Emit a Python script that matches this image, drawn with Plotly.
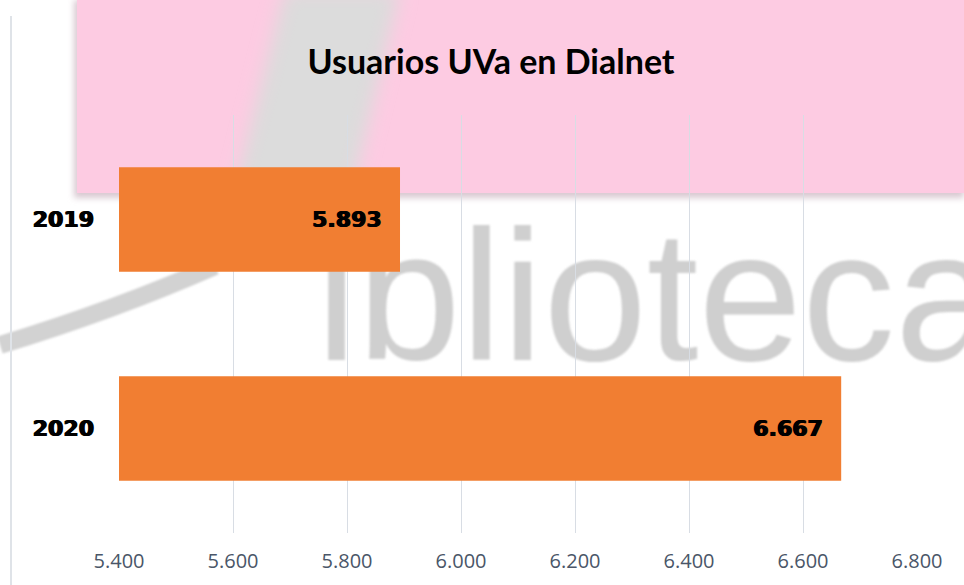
import base64
import plotly.graph_objects as go

# ---- data ----
years = ["2019", "2020"]
usuarios = [5893, 6667]
x_ticks = [5400, 5600, 5800, 6000, 6200, 6400, 6600, 6800]
title_text = "Usuarios UVa en Dialnet"
watermark = "iblioteca"

W, H = 964, 585
ML, MR, MT, MB = 119, 47, 115, 52
PW, PH = W - ML - MR, H - MT - MB

svg = f"""<svg xmlns='http://www.w3.org/2000/svg' width='{W}' height='{H}' viewBox='0 0 {W} {H}'>
<defs>
<filter id='b1' x='-50%' y='-50%' width='200%' height='200%'><feGaussianBlur stdDeviation='9'/></filter>
<filter id='b2' x='-50%' y='-50%' width='200%' height='200%'><feGaussianBlur stdDeviation='3'/></filter>
<filter id='b3' x='-20%' y='-20%' width='140%' height='140%'><feGaussianBlur stdDeviation='1.2'/></filter>
<clipPath id='pk'><rect x='77' y='0' width='887' height='193'/></clipPath>
</defs>
<rect x='0' y='0' width='{W}' height='{H}' fill='white'/>
<rect x='74' y='0' width='890' height='198' fill='#d9c9d1' filter='url(#b2)'/>
<rect x='77' y='0' width='887' height='193' fill='#fdcbe2'/>
<g clip-path='url(#pk)'>
<polygon points='285,-10 400,-10 350,200 232,200' fill='#dcdcdc' filter='url(#b1)'/>
</g>
<path d='M 215,266 Q 115,310 0,345' stroke='#d2d2d2' stroke-width='18' fill='none' filter='url(#b3)'/>
<text x='316' y='360' font-family='Liberation Sans, Arial, sans-serif' font-size='186' fill='#cfcfcf' filter='url(#b3)'>{watermark}</text>
<line x1='11' y1='16' x2='11' y2='585' stroke='#dfe3e8' stroke-width='2'/>
</svg>"""
src = "data:image/svg+xml;base64," + base64.b64encode(svg.encode("utf-8")).decode("ascii")

heavy = "0.7px 0px 0px black, -0.7px 0px 0px black"

fig = go.Figure()
fig.add_trace(go.Bar(
    y=years, x=usuarios, orientation="h", width=0.5,
    marker=dict(color="#f17e32", line=dict(width=0)),
    texttemplate="%{x:,.0f}\u00a0\u00a0",
    textposition="inside", insidetextanchor="end",
    textfont=dict(family="DejaVu Sans", size=22, color="black", weight="bold", shadow=heavy),
    cliponaxis=False,
    hoverinfo="skip",
))

fig.update_layout(
    width=W, height=H,
    margin=dict(l=ML, r=MR, t=MT, b=MB),
    paper_bgcolor="white", plot_bgcolor="rgba(0,0,0,0)",
    separators=",.",
    showlegend=False,
    title=dict(text=title_text, x=491 / W, xanchor="center", y=1 - 62 / H, yanchor="middle",
               font=dict(family="Lato", size=34, color="black", weight="bold")),
    xaxis=dict(range=[5400, 6800], tickvals=x_ticks, tickformat=",.0f",
               showgrid=True, gridcolor="#d8dde4", gridwidth=1, zeroline=False,
               showline=False, ticks="", ticklabelstandoff=14,
               tickfont=dict(family="Open Sans", size=20, color="#4a5668")),
    yaxis=dict(type="category", autorange="reversed", showgrid=False, zeroline=False,
               showline=False, ticks="", ticklabelstandoff=24,
               tickfont=dict(family="DejaVu Sans", size=22, color="black", weight="bold", shadow=heavy)),
    images=[dict(source=src, xref="paper", yref="paper",
                 x=-ML / PW, y=1 + MT / PH, sizex=W / PW, sizey=H / PH,
                 xanchor="left", yanchor="top", sizing="stretch", layer="below")],
)

fig.write_html("out.html", config={"displayModeBar": False},
               post_script="document.body.style.margin='0';document.body.style.overflow='hidden';")
